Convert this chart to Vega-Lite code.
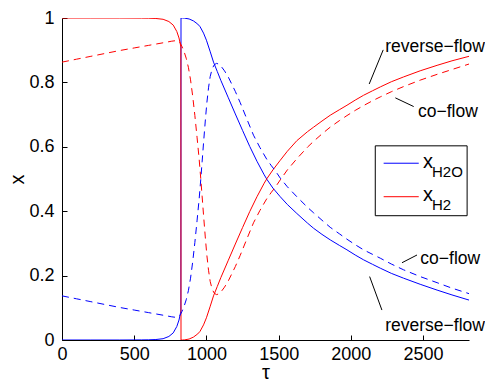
{
  "$schema": "https://vega.github.io/schema/vega-lite/v6.json",
  "width": 407,
  "height": 322,
  "autosize": {"type": "none"},
  "padding": {"left": 62, "top": 18, "right": 16, "bottom": 39},
  "background": "white",
  "config": {
    "view": {"stroke": null},
    "font": "Liberation Sans",
    "axis": {
      "domainColor": "black",
      "tickColor": "black",
      "labelColor": "black",
      "titleColor": "black",
      "grid": false,
      "labelFontSize": 18,
      "titleFontSize": 20,
      "titleFontWeight": "normal",
      "tickSize": -5,
      "domainWidth": 1,
      "tickWidth": 1
    }
  },
  "datasets": {
    "rev": [
      {"tau": 0, "H2O": 0, "H2": 1},
      {"tau": 200, "H2O": 0, "H2": 1},
      {"tau": 400, "H2O": 0, "H2": 1},
      {"tau": 550, "H2O": 0.0003, "H2": 0.9997},
      {"tau": 600, "H2O": 0.0006, "H2": 0.9994},
      {"tau": 650, "H2O": 0.0015, "H2": 0.9985},
      {"tau": 700, "H2O": 0.004, "H2": 0.996},
      {"tau": 740, "H2O": 0.011, "H2": 0.989},
      {"tau": 770, "H2O": 0.022, "H2": 0.978},
      {"tau": 795, "H2O": 0.042, "H2": 0.958},
      {"tau": 810, "H2O": 0.062, "H2": 0.938},
      {"tau": 818, "H2O": 0.078, "H2": 0.922},
      {"tau": 823, "H2O": 0.09, "H2": 0.91},
      {"tau": 824, "H2O": 1, "H2": 0},
      {"tau": 835, "H2O": 1, "H2": 0},
      {"tau": 850, "H2O": 0.9995, "H2": 0.0005},
      {"tau": 880, "H2O": 0.997, "H2": 0.003},
      {"tau": 910, "H2O": 0.991, "H2": 0.009},
      {"tau": 940, "H2O": 0.981, "H2": 0.019},
      {"tau": 956, "H2O": 0.973, "H2": 0.027},
      {"tau": 980, "H2O": 0.953, "H2": 0.047},
      {"tau": 1000, "H2O": 0.931, "H2": 0.069},
      {"tau": 1025, "H2O": 0.897, "H2": 0.103},
      {"tau": 1049, "H2O": 0.863, "H2": 0.137},
      {"tau": 1075, "H2O": 0.834, "H2": 0.166},
      {"tau": 1100, "H2O": 0.806, "H2": 0.194},
      {"tau": 1150, "H2O": 0.754, "H2": 0.246},
      {"tau": 1200, "H2O": 0.702, "H2": 0.298},
      {"tau": 1250, "H2O": 0.651, "H2": 0.349},
      {"tau": 1300, "H2O": 0.601, "H2": 0.399},
      {"tau": 1350, "H2O": 0.555, "H2": 0.445},
      {"tau": 1400, "H2O": 0.513, "H2": 0.487},
      {"tau": 1420, "H2O": 0.498, "H2": 0.502},
      {"tau": 1460, "H2O": 0.472, "H2": 0.528},
      {"tau": 1511, "H2O": 0.445, "H2": 0.558},
      {"tau": 1560, "H2O": 0.421, "H2": 0.586},
      {"tau": 1626, "H2O": 0.393, "H2": 0.619},
      {"tau": 1700, "H2O": 0.363, "H2": 0.647},
      {"tau": 1742, "H2O": 0.347, "H2": 0.661},
      {"tau": 1800, "H2O": 0.328, "H2": 0.68},
      {"tau": 1857, "H2O": 0.311, "H2": 0.698},
      {"tau": 1920, "H2O": 0.294, "H2": 0.715},
      {"tau": 1973, "H2O": 0.28, "H2": 0.729},
      {"tau": 2030, "H2O": 0.264, "H2": 0.745},
      {"tau": 2088, "H2O": 0.249, "H2": 0.76},
      {"tau": 2150, "H2O": 0.235, "H2": 0.774},
      {"tau": 2204, "H2O": 0.223, "H2": 0.786},
      {"tau": 2280, "H2O": 0.207, "H2": 0.802},
      {"tau": 2365, "H2O": 0.192, "H2": 0.817},
      {"tau": 2480, "H2O": 0.173, "H2": 0.836},
      {"tau": 2597, "H2O": 0.155, "H2": 0.853},
      {"tau": 2700, "H2O": 0.14, "H2": 0.867},
      {"tau": 2818, "H2O": 0.124, "H2": 0.881}
    ],
    "co": [
      {"tau": 0, "H2O": 0.137, "H2": 0.863},
      {"tau": 100, "H2O": 0.128, "H2": 0.872},
      {"tau": 200, "H2O": 0.119, "H2": 0.881},
      {"tau": 300, "H2O": 0.11, "H2": 0.89},
      {"tau": 400, "H2O": 0.101, "H2": 0.899},
      {"tau": 500, "H2O": 0.093, "H2": 0.907},
      {"tau": 600, "H2O": 0.085, "H2": 0.915},
      {"tau": 700, "H2O": 0.077, "H2": 0.923},
      {"tau": 760, "H2O": 0.072, "H2": 0.928},
      {"tau": 795, "H2O": 0.07, "H2": 0.93},
      {"tau": 815, "H2O": 0.075, "H2": 0.925},
      {"tau": 830, "H2O": 0.088, "H2": 0.912},
      {"tau": 845, "H2O": 0.104, "H2": 0.896},
      {"tau": 860, "H2O": 0.125, "H2": 0.875},
      {"tau": 875, "H2O": 0.153, "H2": 0.847},
      {"tau": 890, "H2O": 0.192, "H2": 0.808},
      {"tau": 905, "H2O": 0.243, "H2": 0.757},
      {"tau": 920, "H2O": 0.303, "H2": 0.697},
      {"tau": 935, "H2O": 0.37, "H2": 0.63},
      {"tau": 950, "H2O": 0.44, "H2": 0.56},
      {"tau": 961, "H2O": 0.5, "H2": 0.5},
      {"tau": 970, "H2O": 0.553, "H2": 0.447},
      {"tau": 980, "H2O": 0.612, "H2": 0.388},
      {"tau": 992, "H2O": 0.68, "H2": 0.32},
      {"tau": 1003, "H2O": 0.737, "H2": 0.263},
      {"tau": 1015, "H2O": 0.785, "H2": 0.215},
      {"tau": 1026, "H2O": 0.818, "H2": 0.182},
      {"tau": 1040, "H2O": 0.843, "H2": 0.157},
      {"tau": 1055, "H2O": 0.855, "H2": 0.145},
      {"tau": 1070, "H2O": 0.859, "H2": 0.141},
      {"tau": 1085, "H2O": 0.857, "H2": 0.143},
      {"tau": 1100, "H2O": 0.851, "H2": 0.149},
      {"tau": 1125, "H2O": 0.836, "H2": 0.164},
      {"tau": 1152, "H2O": 0.816, "H2": 0.184},
      {"tau": 1200, "H2O": 0.772, "H2": 0.228},
      {"tau": 1234, "H2O": 0.737, "H2": 0.263},
      {"tau": 1280, "H2O": 0.686, "H2": 0.314},
      {"tau": 1326, "H2O": 0.636, "H2": 0.364},
      {"tau": 1370, "H2O": 0.598, "H2": 0.402},
      {"tau": 1418, "H2O": 0.561, "H2": 0.439},
      {"tau": 1450, "H2O": 0.541, "H2": 0.459},
      {"tau": 1476, "H2O": 0.526, "H2": 0.474},
      {"tau": 1511, "H2O": 0.503, "H2": 0.497},
      {"tau": 1560, "H2O": 0.476, "H2": 0.528},
      {"tau": 1626, "H2O": 0.445, "H2": 0.563},
      {"tau": 1700, "H2O": 0.412, "H2": 0.599},
      {"tau": 1742, "H2O": 0.395, "H2": 0.617},
      {"tau": 1800, "H2O": 0.372, "H2": 0.64},
      {"tau": 1857, "H2O": 0.35, "H2": 0.661},
      {"tau": 1920, "H2O": 0.33, "H2": 0.681},
      {"tau": 1973, "H2O": 0.313, "H2": 0.697},
      {"tau": 2030, "H2O": 0.296, "H2": 0.713},
      {"tau": 2088, "H2O": 0.28, "H2": 0.728},
      {"tau": 2150, "H2O": 0.266, "H2": 0.743},
      {"tau": 2204, "H2O": 0.254, "H2": 0.755},
      {"tau": 2280, "H2O": 0.236, "H2": 0.771},
      {"tau": 2365, "H2O": 0.218, "H2": 0.787},
      {"tau": 2480, "H2O": 0.197, "H2": 0.807},
      {"tau": 2597, "H2O": 0.178, "H2": 0.825},
      {"tau": 2700, "H2O": 0.161, "H2": 0.84},
      {"tau": 2818, "H2O": 0.144, "H2": 0.857}
    ],
    "pointers": [
      {"tau": 2224, "x": 0.901, "tau2": 2127, "x2": 0.795},
      {"tau": 2308, "x": 0.752, "tau2": 2435, "x2": 0.725},
      {"tau": 2354, "x": 0.24, "tau2": 2458, "x2": 0.264},
      {"tau": 2130, "x": 0.197, "tau2": 2215, "x2": 0.093}
    ],
    "notes": [
      {"tau": 2238, "x": 0.893, "label": "reverse−flow"},
      {"tau": 2465, "x": 0.692, "label": "co−flow"},
      {"tau": 2481, "x": 0.236, "label": "co−flow"},
      {"tau": 2238, "x": 0.028, "label": "reverse−flow"}
    ],
    "legendbox": [
      {"tau": 2169, "x": 0.386, "tau2": 2805, "x2": 0.603}
    ],
    "legendlines": [
      {"species": "H2O", "tau": 2227, "tau2": 2470, "x": 0.549},
      {"species": "H2", "tau": 2227, "tau2": 2470, "x": 0.445}
    ],
    "legendmain": [
      {"tau": 2500, "x": 0.534, "label": "x"},
      {"tau": 2500, "x": 0.432, "label": "x"}
    ],
    "legendsub": [
      {"tau": 2562, "x": 0.506, "label": "H2O"},
      {"tau": 2562, "x": 0.404, "label": "H2"}
    ]
  },
  "layer": [
    {
      "data": {"name": "rev"},
      "transform": [{"fold": ["H2O", "H2"], "as": ["species", "x"]}],
      "mark": {"type": "line", "strokeWidth": 1, "clip": true},
      "encoding": {
        "x": {
          "field": "tau", "type": "quantitative",
          "scale": {"domain": [0, 2818], "nice": false, "zero": false},
          "axis": {"title": "τ", "values": [0, 500, 1000, 1500, 2000, 2500], "labelPadding": 10, "titleBaseline": "top", "titleY": 22, "format": "d", "labelFlush": false}
        },
        "y": {
          "field": "x", "type": "quantitative",
          "scale": {"domain": [0, 1], "nice": false},
          "axis": {"title": "x", "values": [0, 0.2, 0.4, 0.6, 0.8, 1], "format": "~g", "labelPadding": 13, "titlePadding": 1}
        },
        "color": {
          "field": "species", "type": "nominal",
          "scale": {"domain": ["H2O", "H2"], "range": ["#0000ff", "#ff0000"]},
          "legend": null
        },
        "detail": {"field": "species"}
      }
    },
    {
      "data": {"name": "co"},
      "transform": [{"fold": ["H2O", "H2"], "as": ["species", "x"]}],
      "mark": {"type": "line", "strokeWidth": 1, "strokeDash": [7, 5], "clip": true},
      "encoding": {
        "x": {"field": "tau", "type": "quantitative"},
        "y": {"field": "x", "type": "quantitative"},
        "color": {"field": "species", "type": "nominal", "legend": null}
      }
    },
    {
      "data": {"name": "pointers"},
      "mark": {"type": "rule", "color": "black", "strokeWidth": 1},
      "encoding": {
        "x": {"field": "tau", "type": "quantitative"},
        "y": {"field": "x", "type": "quantitative"},
        "x2": {"field": "tau2"},
        "y2": {"field": "x2"}
      }
    },
    {
      "data": {"name": "notes"},
      "mark": {"type": "text", "align": "left", "baseline": "alphabetic", "fontSize": 17.5, "color": "black"},
      "encoding": {
        "x": {"field": "tau", "type": "quantitative"},
        "y": {"field": "x", "type": "quantitative"},
        "text": {"field": "label"}
      }
    },
    {
      "data": {"name": "legendbox"},
      "mark": {"type": "rect", "fill": "white", "stroke": "black", "strokeWidth": 1},
      "encoding": {
        "x": {"field": "tau", "type": "quantitative"},
        "x2": {"field": "tau2"},
        "y": {"field": "x", "type": "quantitative"},
        "y2": {"field": "x2"}
      }
    },
    {
      "data": {"name": "legendlines"},
      "mark": {"type": "rule", "strokeWidth": 1},
      "encoding": {
        "x": {"field": "tau", "type": "quantitative"},
        "x2": {"field": "tau2"},
        "y": {"field": "x", "type": "quantitative"},
        "color": {"field": "species", "type": "nominal", "legend": null}
      }
    },
    {
      "data": {"name": "legendmain"},
      "mark": {"type": "text", "align": "left", "baseline": "alphabetic", "fontSize": 20, "color": "black"},
      "encoding": {
        "x": {"field": "tau", "type": "quantitative"},
        "y": {"field": "x", "type": "quantitative"},
        "text": {"field": "label"}
      }
    },
    {
      "data": {"name": "legendsub"},
      "mark": {"type": "text", "align": "left", "baseline": "alphabetic", "fontSize": 15, "color": "black"},
      "encoding": {
        "x": {"field": "tau", "type": "quantitative"},
        "y": {"field": "x", "type": "quantitative"},
        "text": {"field": "label"}
      }
    }
  ]
}
